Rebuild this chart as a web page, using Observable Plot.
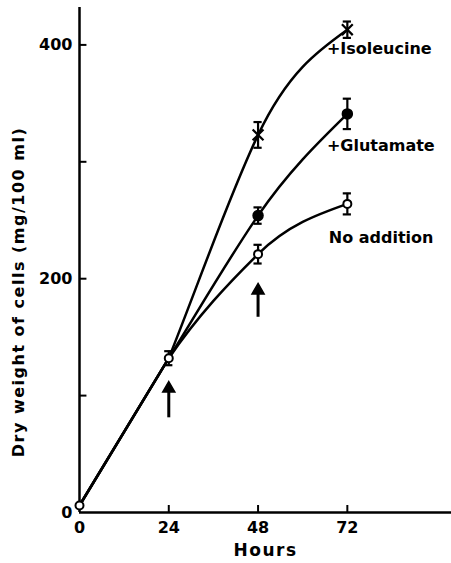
<!DOCTYPE html>
<html><head><meta charset="utf-8">
<script src="https://cdn.jsdelivr.net/npm/d3@7"></script>
<script src="https://cdn.jsdelivr.net/npm/@observablehq/plot@0.6"></script>
<style>body{margin:0;background:#fff} #chart svg{font-family:"DejaVu Sans",sans-serif;overflow:visible}</style>
</head><body><div id="chart"></div>
<script>
const hours = [0, 24, 48, 72];
const noAddition = [6, 132, 221, 264];
const glutamate = [6, 132, 254, 341];
const isoleucine = [6, 132, 323, 413];
const noAdditionErr = [0, 6, 8, 9];
const glutamateErr = [0, 6, 7, 13];
const isoleucineErr = [0, 6, 11, 7];
const xTicks = [0, 24, 48, 72];
const yTicks = [0, 100, 200, 300, 400];
const yTickLabels = [0, 200, 400];
const arrowHours = [24, 48];
const arrowFrom = [81, 167];
const arrowTo = [106, 190];
const seriesNames = ["+Isoleucine", "+Glutamate", "No addition"];
const labelHours = [66.5, 66.5, 67];
const labelValues = [397, 314, 235];

// hand-drawn-like smooth curve: first segment straight, then cubic Hermite segments
function handCurve(bend) {
  return context => {
    let pts = [];
    return {
      areaStart() {}, areaEnd() {},
      lineStart() { pts = []; },
      point(x, y) { pts.push([+x, +y]); },
      lineEnd() {
        const n = pts.length;
        if (!n) return;
        context.moveTo(pts[0][0], pts[0][1]);
        if (n < 2) return;
        const s = [];
        for (let i = 0; i < n - 1; i++) s.push((pts[i + 1][1] - pts[i][1]) / (pts[i + 1][0] - pts[i][0]));
        context.lineTo(pts[1][0], pts[1][1]);
        const tOut = [], tIn = [];
        tOut[1] = bend * s[0] + (1 - bend) * s[1];
        for (let i = 2; i < n - 1; i++) { tIn[i] = 0.7 * s[i - 1] + 0.3 * s[i]; tOut[i] = tIn[i]; }
        tIn[n - 1] = (3 * s[n - 2] - tOut[n - 2]) / 2;
        for (let i = 1; i < n - 1; i++) {
          const [x0, y0] = pts[i], [x1, y1] = pts[i + 1], dx = (x1 - x0) / 3;
          context.bezierCurveTo(x0 + dx, y0 + tOut[i] * dx, x1 - dx, y1 - tIn[i + 1] * dx, x1, y1);
        }
      }
    };
  };
}

const mk = (vals, errs, name) => hours.map((h, i) => ({h, v: vals[i], e: errs[i], name}));
const sNo = mk(noAddition, noAdditionErr, "No addition");
const sGlu = mk(glutamate, glutamateErr, "+Glutamate");
const sIso = mk(isoleucine, isoleucineErr, "+Isoleucine");
const all = [...sNo, ...sGlu.slice(2), ...sIso.slice(2)];
const errs = all.filter(d => d.e > 0);
const arrows = arrowHours.map((h, i) => ({h, from: arrowFrom[i], to: arrowTo[i]}));
const labels = seriesNames.map((t, i) => ({t, h: labelHours[i], v: labelValues[i]}));

const chart = Plot.plot({
  width: 451, height: 563,
  marginLeft: 79, marginRight: 0, marginTop: 7, marginBottom: 51,
  x: {domain: [0, 100]},
  y: {domain: [0, 432]},
  style: {fontFamily: "DejaVu Sans", fontSize: "16px", fontWeight: "bold", color: "#000"},
  marks: [
    Plot.axisX(xTicks, {tickSize: 0, tickPadding: 9, label: null, fontSize: 16, fontWeight: "bold"}),
    Plot.axisY(yTickLabels, {tickSize: 0, tickPadding: 7, label: null, fontSize: 16, fontWeight: "bold"}),
    Plot.ruleX(xTicks.slice(1), {x: d => d, y1: 0, y2: 6, strokeWidth: 2}),
    Plot.ruleY(yTicks.slice(1), {y: d => d, x1: 0, x2: 2, strokeWidth: 2}),
    Plot.ruleY([0], {strokeWidth: 2.5}),
    Plot.ruleX([0], {strokeWidth: 2.5}),
    Plot.line(sNo, {x: "h", y: "v", curve: handCurve(0.6), strokeWidth: 2.5}),
    Plot.line(sGlu, {x: "h", y: "v", curve: handCurve(0.3), strokeWidth: 2.5}),
    Plot.line(sIso, {x: "h", y: "v", curve: handCurve(0), strokeWidth: 2.5}),
    Plot.ruleX(errs, {x: "h", y1: d => d.v - d.e, y2: d => d.v + d.e, strokeWidth: 2.2}),
    Plot.ruleY(errs, {y: d => d.v + d.e, x1: d => d.h - 1.1, x2: d => d.h + 1.1, strokeWidth: 2.2}),
    Plot.ruleY(errs, {y: d => d.v - d.e, x1: d => d.h - 1.1, x2: d => d.h + 1.1, strokeWidth: 2.2}),
    Plot.dot(sNo, {x: "h", y: "v", r: 4, fill: "white", stroke: "black", strokeWidth: 2}),
    Plot.dot(sGlu.slice(2), {x: "h", y: "v", r: 5, fill: "black", stroke: "black"}),
    Plot.dot(sIso.slice(2), {x: "h", y: "v", r: 5, symbol: "times", stroke: "black", strokeWidth: 2.2}),
    Plot.ruleX(arrows, {x: "h", y1: "from", y2: "to", strokeWidth: 3}),
    Plot.dot(arrows, {x: "h", y: "to", symbol: "triangle", r: 4.5, fill: "black", stroke: "black"}),
    Plot.text(labels, {x: "h", y: "v", text: "t", textAnchor: "start", fontSize: 16, fontWeight: "bold", fill: "black"}),
    Plot.text(["Hours"], {frameAnchor: "bottom", dy: 43, fontSize: 17, fontWeight: "bold", fill: "black"}),
    Plot.text(["Dry weight of cells (mg/100 ml)"], {frameAnchor: "left", textAnchor: "middle", dx: -61, dy: 32, rotate: -90, fontSize: 16, fontWeight: "bold", fill: "black"})
  ]
});
d3.select(chart).selectAll("text").filter(function() { return this.textContent.startsWith("Dry weight"); }).style("letter-spacing", "1.5px");
d3.select(chart).selectAll("text").filter(function() { return this.textContent === "Hours"; }).style("letter-spacing", "1.5px");
document.getElementById("chart").appendChild(chart);
</script>
</body></html>
